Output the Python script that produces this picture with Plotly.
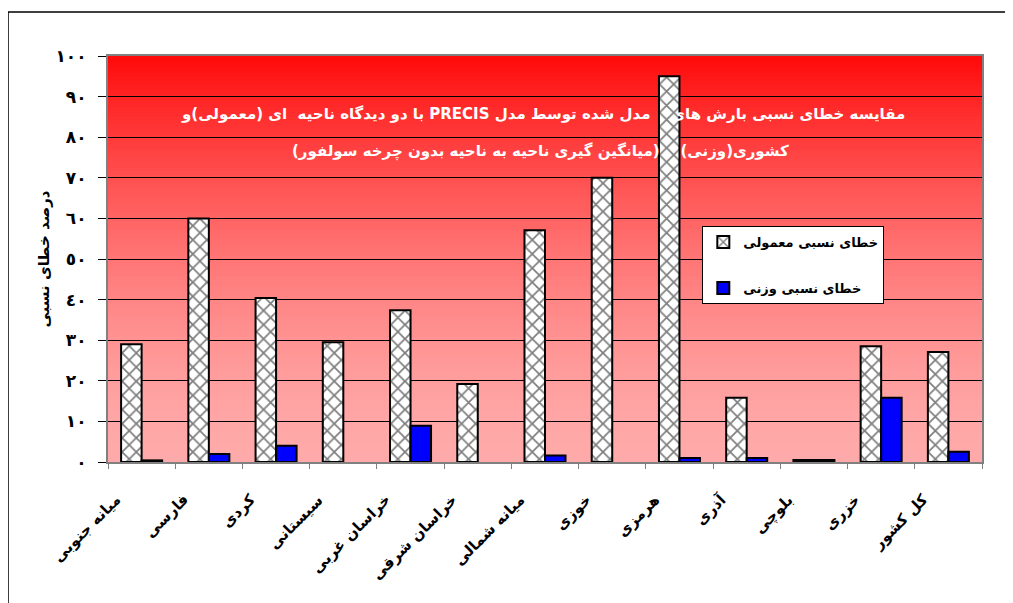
import plotly.graph_objects as go

# ---- data ----
categories = ["میانه جنوبی", "فارسی", "کردی", "سیستانی", "خراسان غربی", "خراسان شرقی",
              "میانه شمالی", "خوزی", "هرمزی", "آذری", "بلوچی", "خزری", "کل کشور"]
err_normal = [29, 60, 40.4, 29.5, 37.4, 19.2, 57.1, 70, 95, 15.8, 0.5, 28.5, 27.1]
err_weighted = [0.4, 2, 4, None, 8.9, None, 1.6, None, 1, 1, 0.5, 15.8, 2.5]
series_names = ["خطای نسبی معمولی", "خطای نسبی وزنی"]
y_tickvals = [0, 10, 20, 30, 40, 50, 60, 70, 80, 90, 100]
y_ticktext = ["٠", "١٠", "٢٠", "٣٠", "٤٠", "٥٠", "٦٠", "٧٠", "٨٠", "٩٠", "١٠٠"]
y_title = "درصد خطای نسبی"
title_line1 = "مقایسه خطای نسبی بارش های    مدل شده توسط مدل PRECIS با دو دیدگاه ناحیه  ای (معمولی)و"
title_line2 = "کشوری(وزنی)    (میانگین گیری ناحیه به ناحیه بدون چرخه سولفور)"

RLE, PDF = "\u202b", "\u202c"
FONT = "DejaVu Sans"

fig = go.Figure()
fig.add_trace(go.Bar(
    x=categories, y=err_normal, name=series_names[0], legendgroup="a",
    marker=dict(color="white", line=dict(color="black", width=2),
                pattern=dict(shape="x", fgcolor="black", bgcolor="white", size=10, solidity=0.32)),
))
fig.add_trace(go.Bar(
    x=categories, y=err_weighted, name=series_names[1], legendgroup="b",
    marker=dict(color="#0000ff", line=dict(color="black", width=2)),
))

# gradient background (style only)
shapes = []
N = 120
for i in range(N):
    f = (i + 0.5) / N
    g = int(round(170 - 160 * f ** 1.6))
    shapes.append(dict(type="rect", xref="x domain", yref="y domain",
                       x0=0, x1=1, y0=i / N, y1=(i + 1) / N + 0.002,
                       fillcolor=f"rgb(255,{g},{g})", line=dict(width=0), layer="below"))
# outer chart frame
shapes.append(dict(type="rect", xref="paper", yref="paper",
                   x0=-0.1144, x1=1.3, y0=-0.6, y1=1.1084,
                   line=dict(color="black", width=1.5), fillcolor="rgba(0,0,0,0)", layer="below"))

annotations = [
    dict(text=RLE + title_line1 + PDF, xref="paper", yref="paper", x=0.498, y=0.884,
         showarrow=False, font=dict(size=15, color="white", family=FONT, weight="bold")),
    dict(text=RLE + title_line2 + PDF, xref="paper", yref="paper", x=0.495, y=0.793,
         showarrow=False, font=dict(size=15, color="white", family=FONT, weight="bold")),
]
# category labels (rotated, anchored at their upper-right end)
for i, c in enumerate(categories):
    annotations.append(dict(text=c, xref="x", yref="paper", x=i, y=0,
                            xanchor="right", yanchor="top", xshift=-14, yshift=-26,
                            textangle=-45, showarrow=False,
                            font=dict(size=15, family=FONT, weight="bold", color="black")))

fig.update_layout(
    width=1005, height=595,
    margin=dict(l=100, r=31, t=48, b=141, autoexpand=False),
    paper_bgcolor="white", plot_bgcolor="#ffaaaa",
    barmode="group", bargap=0.39, bargroupgap=0,
    shapes=shapes,
    font=dict(family=FONT, color="black"),
    legend=dict(x=0.68, y=0.581, xanchor="left", yanchor="top",
                bgcolor="white", bordercolor="black", borderwidth=1,
                font=dict(size=13, family=FONT, weight="bold"),
                tracegroupgap=26),
    annotations=annotations,
)
fig.update_xaxes(
    automargin=False, range=[-0.5, len(categories) - 0.5], autorange=False,
    showline=True, linecolor="#808080", linewidth=2, mirror=True,
    ticks="outside", tickson="boundaries", ticklen=5, tickcolor="#808080",
    showticklabels=False,
    showgrid=False,
)
fig.update_yaxes(
    automargin=False,
    range=[0, 100], tickvals=y_tickvals, ticktext=y_ticktext,
    showline=True, linecolor="#808080", linewidth=2, mirror=True,
    ticks="outside", ticklen=8, tickcolor="black", ticklabelstandoff=8,
    tickfont=dict(size=17, family=FONT, weight="bold"),
    showgrid=True, gridcolor="black", gridwidth=1, zeroline=False,
    title=dict(text=y_title, font=dict(size=15, family=FONT, weight="bold"), standoff=2),
)

fig.write_html("out.html")
